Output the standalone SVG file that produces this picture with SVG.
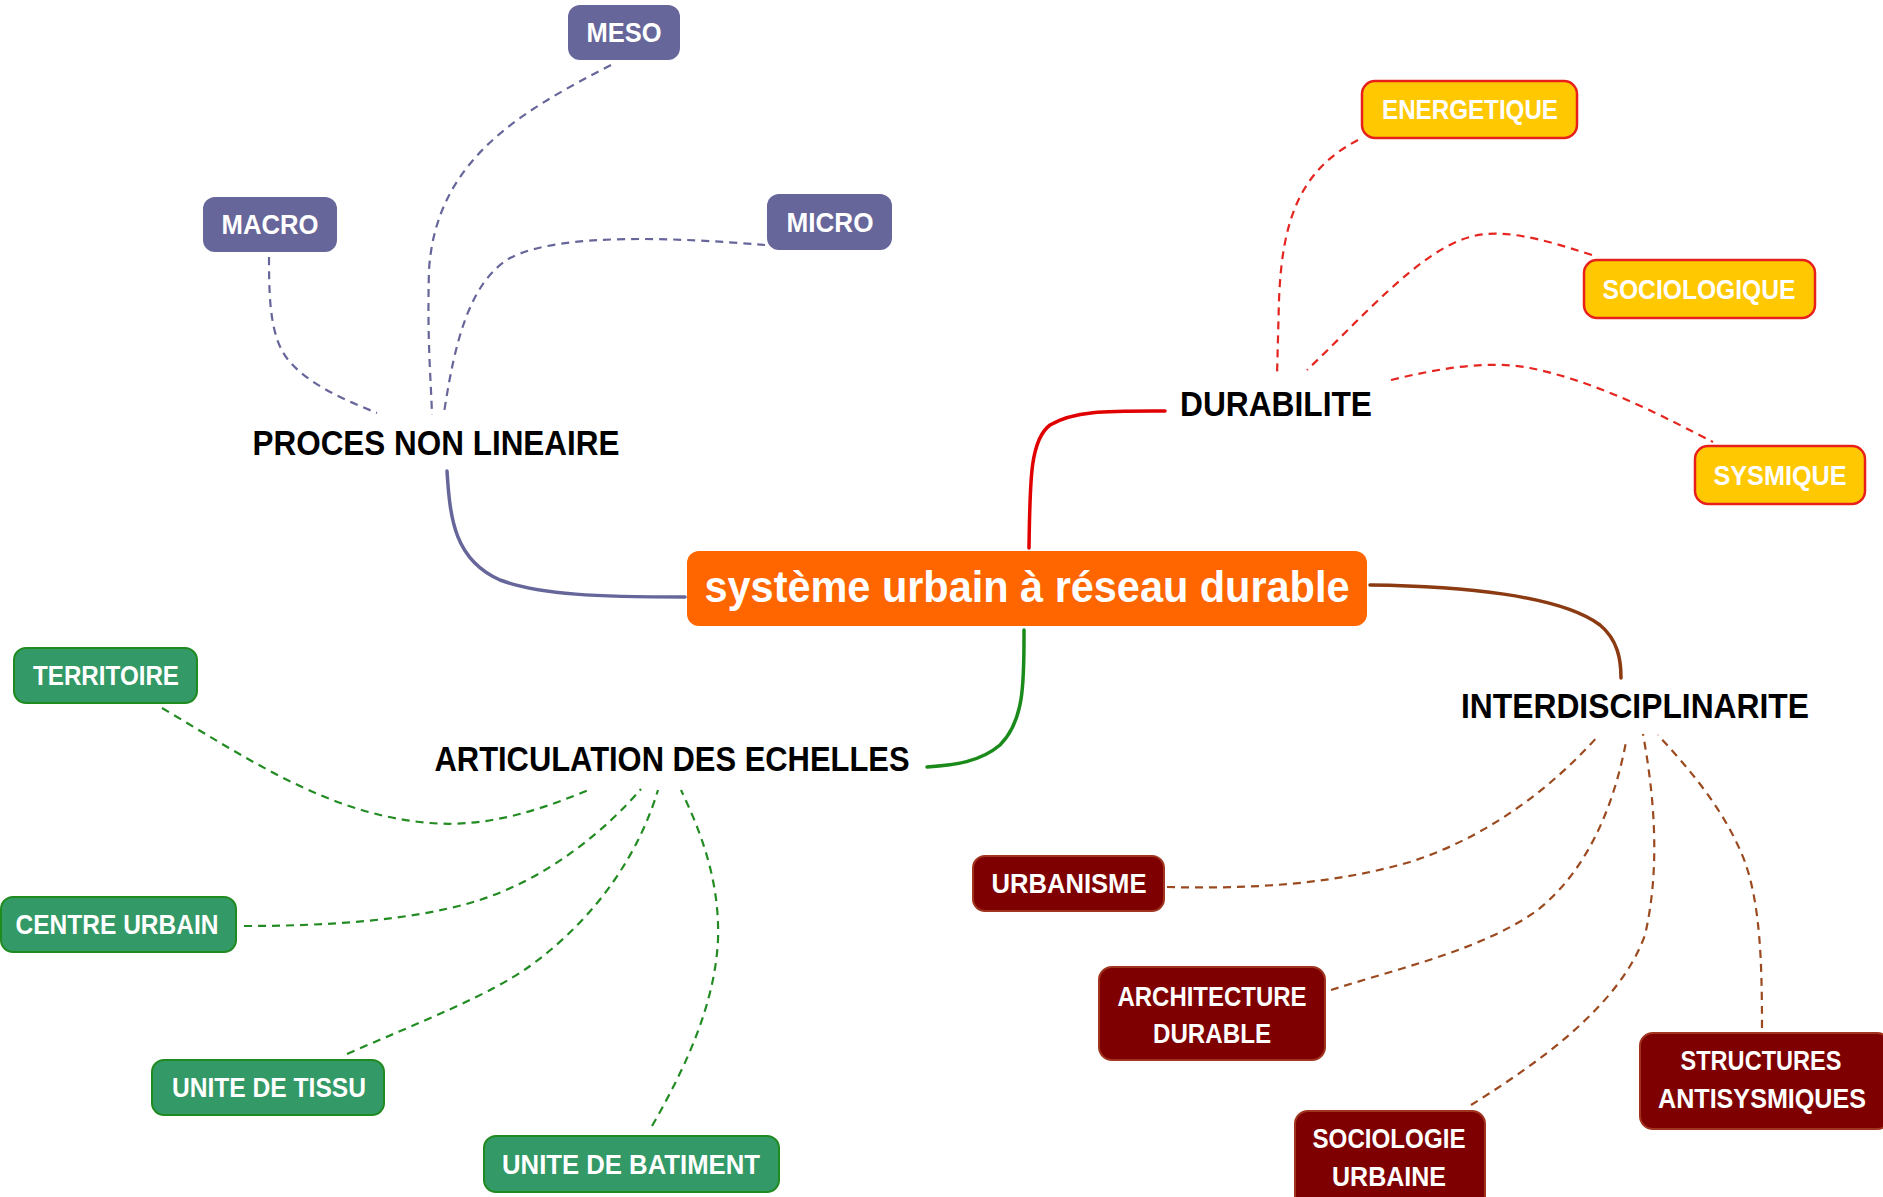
<svg xmlns="http://www.w3.org/2000/svg" width="1883" height="1197" viewBox="0 0 1883 1197">
<style>
text{font-family:"Liberation Sans",Arial,sans-serif;font-weight:bold;text-anchor:middle}
.leaf{font-size:27px;fill:#fff}
.head{font-size:35px;fill:#000}
.center{font-size:44px;fill:#fff}
.c{fill:none;stroke-width:2.2;stroke-dasharray:8 6}
.s{fill:none;stroke-width:3.5;stroke-linecap:round}
.pu{fill:#66669a}
.ye{fill:#ffc800;stroke:#e8201c;stroke-width:2.5}
.gr{fill:#339966;stroke:#1f8a1f;stroke-width:2}
.ma{fill:#7f0000;stroke:#a0341e;stroke-width:2}
</style>
<rect width="1883" height="1197" fill="#fff"/>
<g id="connectors">
<path class="s" stroke="#66669a" d="M447,471 C 450,520 455,560 500,580 C 540,595 600,597 685,597"/>
<path class="s" stroke="#e00000" d="M1029,548 C 1030,480 1030,440 1050,425 C 1075,410 1110,411 1165,411"/>
<path class="s" stroke="#8b3a12" d="M1370,585 C 1460,586 1560,595 1600,625 C 1618,640 1621,660 1621,678"/>
<path class="s" stroke="#1a8a1a" d="M1024,630 C 1024,680 1025,720 1000,745 C 980,762 955,765 927,767"/>
<g stroke="#66669a">
<path class="c" d="M611,65 C 520,112 436,160 429,270 C 427,340 431,380 432,415"/>
<path class="c" d="M269,257 C 269,300 270,340 290,362 C 310,385 345,400 377,413"/>
<path class="c" d="M765,245 C 680,238 560,232 510,258 C 470,282 455,340 444,413"/>
</g>
<g stroke="#e52620">
<path class="c" d="M1358,140 C 1300,170 1282,220 1279,300 L 1277,376"/>
<path class="c" d="M1592,255 C 1540,238 1500,228 1470,237 C 1420,250 1360,320 1307,370"/>
<path class="c" d="M1391,380 C 1440,368 1490,360 1530,368 C 1600,382 1670,420 1713,442"/>
</g>
<g stroke="#228b22">
<path class="c" d="M162,708 C 250,760 330,815 430,823 C 490,828 545,808 591,789"/>
<path class="c" d="M244,926 C 330,926 410,920 470,903 C 550,880 610,825 641,789"/>
<path class="c" d="M347,1054 C 420,1022 490,995 530,966 C 600,915 640,850 658,790"/>
<path class="c" d="M652,1126 C 690,1060 715,1000 718,940 C 720,880 700,830 681,790"/>
</g>
<g stroke="#9b4a1f">
<path class="c" d="M1167,887 C 1250,889 1330,885 1410,862 C 1485,838 1550,790 1599,735"/>
<path class="c" d="M1331,990 C 1400,968 1480,950 1535,912 C 1590,870 1615,800 1626,742"/>
<path class="c" d="M1471,1105 C 1540,1062 1620,1005 1645,935 C 1660,870 1655,800 1643,734"/>
<path class="c" d="M1762,1028 C 1762,960 1760,905 1745,862 C 1725,810 1690,770 1658,735"/>
</g>
</g>
<g id="center">
<rect x="687" y="551" width="680" height="75" rx="12" fill="#ff6600"/>
<text class="center" x="1027" y="602" textLength="645" lengthAdjust="spacingAndGlyphs">système urbain à réseau durable</text>
</g>
<g id="proces"><text class="head" x="436" y="455" textLength="367" lengthAdjust="spacingAndGlyphs">PROCES NON LINEAIRE</text></g>
<g id="durabilite"><text class="head" x="1276" y="416" textLength="192" lengthAdjust="spacingAndGlyphs">DURABILITE</text></g>
<g id="interdisciplinarite"><text class="head" x="1635" y="718" textLength="348" lengthAdjust="spacingAndGlyphs">INTERDISCIPLINARITE</text></g>
<g id="articulation"><text class="head" x="672" y="771" textLength="475" lengthAdjust="spacingAndGlyphs">ARTICULATION DES ECHELLES</text></g>
<g id="meso"><rect class="pu" x="568" y="5" width="112" height="55" rx="12"/><text class="leaf" x="624" y="42" textLength="75" lengthAdjust="spacingAndGlyphs">MESO</text></g>
<g id="macro"><rect class="pu" x="203" y="197" width="134" height="55" rx="12"/><text class="leaf" x="270" y="234" textLength="97" lengthAdjust="spacingAndGlyphs">MACRO</text></g>
<g id="micro"><rect class="pu" x="767" y="194" width="125" height="56" rx="12"/><text class="leaf" x="830" y="232" textLength="87" lengthAdjust="spacingAndGlyphs">MICRO</text></g>
<g id="energetique"><rect class="ye" x="1362" y="81" width="215" height="57" rx="13"/><text class="leaf" x="1470" y="119" textLength="176" lengthAdjust="spacingAndGlyphs">ENERGETIQUE</text></g>
<g id="sociologique"><rect class="ye" x="1584" y="260" width="231" height="58" rx="13"/><text class="leaf" x="1699" y="299" textLength="193" lengthAdjust="spacingAndGlyphs">SOCIOLOGIQUE</text></g>
<g id="sysmique"><rect class="ye" x="1695" y="446" width="170" height="58" rx="13"/><text class="leaf" x="1780" y="485" textLength="133" lengthAdjust="spacingAndGlyphs">SYSMIQUE</text></g>
<g id="territoire"><rect class="gr" x="14" y="648" width="183" height="55" rx="12"/><text class="leaf" x="106" y="685" textLength="146" lengthAdjust="spacingAndGlyphs">TERRITOIRE</text></g>
<g id="centre-urbain"><rect class="gr" x="1" y="897" width="235" height="55" rx="12"/><text class="leaf" x="117" y="934" textLength="203" lengthAdjust="spacingAndGlyphs">CENTRE URBAIN</text></g>
<g id="unite-tissu"><rect class="gr" x="152" y="1060" width="232" height="55" rx="12"/><text class="leaf" x="269" y="1097" textLength="194" lengthAdjust="spacingAndGlyphs">UNITE DE TISSU</text></g>
<g id="unite-batiment"><rect class="gr" x="484" y="1136" width="295" height="56" rx="12"/><text class="leaf" x="631" y="1174" textLength="258" lengthAdjust="spacingAndGlyphs">UNITE DE BATIMENT</text></g>
<g id="urbanisme"><rect class="ma" x="973" y="856" width="191" height="55" rx="12"/><text class="leaf" x="1069" y="893" textLength="155" lengthAdjust="spacingAndGlyphs">URBANISME</text></g>
<g id="architecture"><rect class="ma" x="1099" y="967" width="226" height="93" rx="13"/><text class="leaf" x="1212" y="1006" textLength="189" lengthAdjust="spacingAndGlyphs">ARCHITECTURE</text><text class="leaf" x="1212" y="1043" textLength="118" lengthAdjust="spacingAndGlyphs">DURABLE</text></g>
<g id="sociologie-urbaine"><rect class="ma" x="1295" y="1111" width="190" height="100" rx="13"/><text class="leaf" x="1389" y="1148" textLength="153" lengthAdjust="spacingAndGlyphs">SOCIOLOGIE</text><text class="leaf" x="1389" y="1186" textLength="114" lengthAdjust="spacingAndGlyphs">URBAINE</text></g>
<g id="structures"><rect class="ma" x="1640" y="1033" width="250" height="96" rx="13"/><text class="leaf" x="1761" y="1070" textLength="161" lengthAdjust="spacingAndGlyphs">STRUCTURES</text><text class="leaf" x="1762" y="1108" textLength="208" lengthAdjust="spacingAndGlyphs">ANTISYSMIQUES</text></g>
</svg>
